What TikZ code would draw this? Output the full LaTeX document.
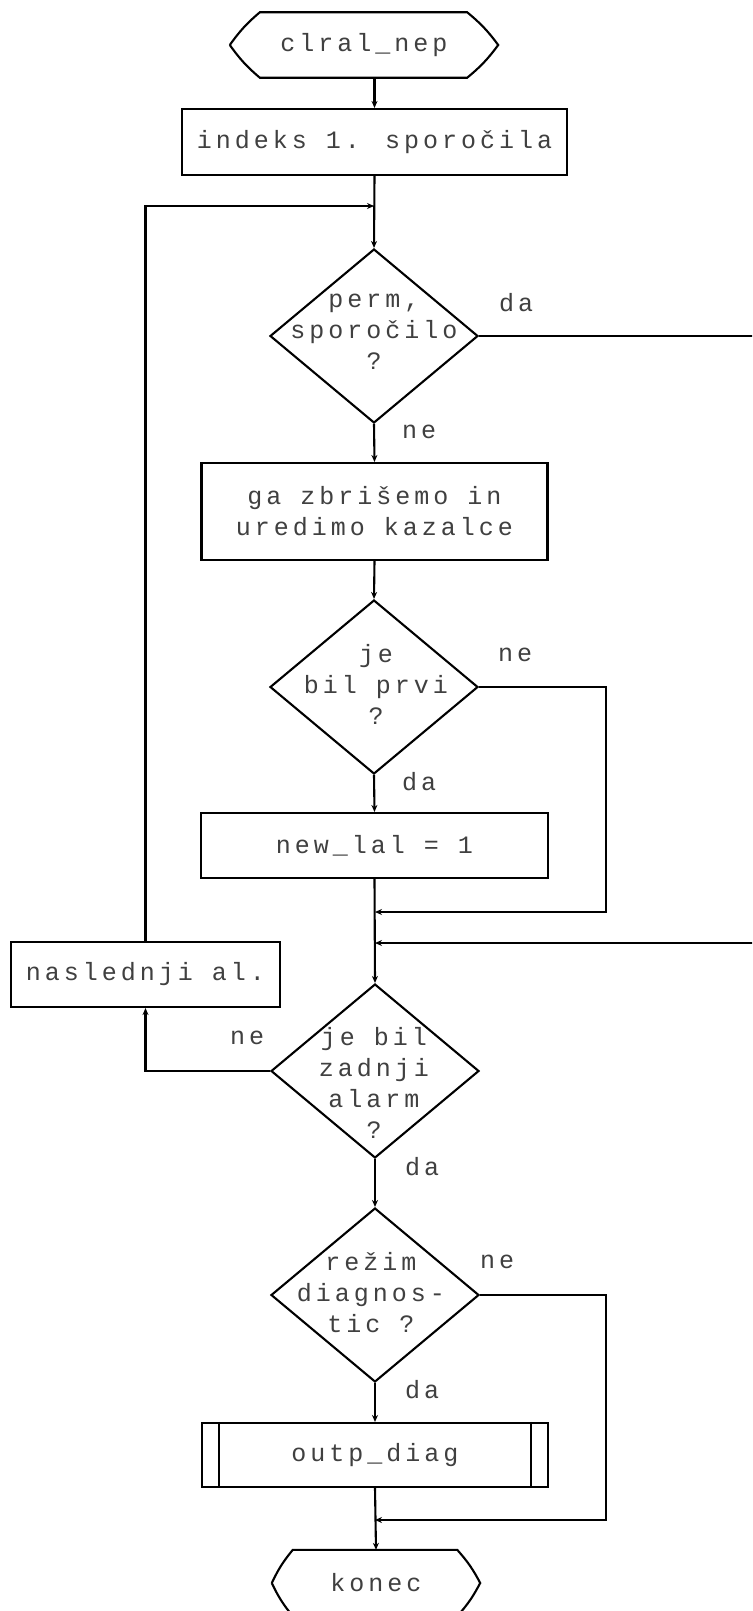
\documentclass[tikz,border=0pt]{standalone}
\usepackage{fontspec}
\newfontfamily\dotfont[LetterSpace=16]{Liberation Mono}
\usetikzlibrary{shapes.geometric,arrows.meta}
\begin{document}
\begin{tikzpicture}[x=1pt,y=-1pt,
  line/.style={line width=2.1pt,draw=black},
  flow/.style={line,-{Stealth[length=7pt,width=6pt]}},
  txt/.style={font={\dotfont\fontsize{25}{31}\selectfont},text=black!75,align=center,inner sep=0pt},
  box/.style={line,rectangle,txt,minimum height=65pt},
  term/.style={txt,minimum height=65pt},
  dia/.style={line,diamond,inner sep=0pt,minimum width=208pt,minimum height=174pt}]
\useasboundingbox (0,0) rectangle (752,1611);
\fill[white] (0,0) rectangle (752,1611);
\clip (0,0) rectangle (752,1611);

% start terminator
\node[term,minimum width=268pt] (start) at (364,45) {clral\_nep};
\draw[line] (start.west) to[bend left=7] ([xshift=30pt]start.north west) -- ([xshift=-31pt]start.north east)
  to[bend left=7] (start.east) to[bend left=7] ([xshift=-31pt]start.south east)
  -- ([xshift=30pt]start.south west) to[bend left=7] (start.west);

\node[box,minimum width=385pt,minimum height=66pt] (ind) at (374.5,142) {indeks 1. sporočila};

% first decision
\node[dia] (d1) at (374,336) {};
\node[txt] (t1) at (374,332) {perm,\\sporočilo\\?};
\node[txt] (l1a) at (516,303) {da};
\node[txt] (l1b) at (419,432) {ne};

\node[box,minimum width=346pt,minimum height=97pt] (b2) at (374.5,511.5) {ga zbrišemo in\\uredimo kazalce};

% second decision
\node[dia] (d2) at (374,687) {};
\node[txt] (t2) at (376,684) {je\\bil prvi\\?};
\node[txt] (l2a) at (515,655) {ne};
\node[txt] (l2b) at (419,782) {da};

\node[box,minimum width=347pt] (nl) at (374.5,845.5) {new\_lal = 1};

% third decision
\node[dia] (d3) at (375,1071) {};
\node[txt] (t3) at (374,1083) {je bil\\zadnji\\alarm\\?};
\node[txt] (l3a) at (247,1038) {ne};
\node[txt] (l3b) at (422,1167) {da};

\node[box,minimum width=269pt,minimum height=65pt] (nasl) at (145.5,974.5) {naslednji al.};

% fourth decision
\node[dia] (d4) at (375,1295) {};
\node[txt] (t4) at (371,1293) {režim\\diagnos-\\tic ?};
\node[txt] (l4a) at (497,1262) {ne};
\node[txt] (l4b) at (422,1390) {da};

% predefined process
\node[box,minimum width=346pt,minimum height=64pt] (op) at (375,1455) {outp\_diag};
\draw[line] ([xshift=18pt]op.north west) -- ([xshift=18pt]op.south west);
\draw[line] ([xshift=-18pt]op.north east) -- ([xshift=-18pt]op.south east);

% end terminator
\node[term,minimum width=208pt,minimum height=66pt] (end) at (376,1583) {konec};
\draw[line] (end.west) to[bend left=7] ([xshift=21pt]end.north west) -- ([xshift=-23pt]end.north east)
  to[bend left=7] (end.east) to[bend left=7] ([xshift=-23pt]end.south east)
  -- ([xshift=21pt]end.south west) to[bend left=7] (end.west);

% junctions
\coordinate (j1) at (374,206);
\coordinate (j2) at (375,912);
\coordinate (j3) at (375,943);
\coordinate (j4) at (375,1520);
\coordinate (r1) at (770,943);
\coordinate (r2) at (606,912);
\coordinate (r4) at (606,1520);

% connectors
\draw[flow] (start.south -| ind.north) -- (ind.north);
\draw[flow] (ind.south) -- (d1.north);
\draw[flow] (nasl.north) |- (j1);
\draw[flow] (d1.south) -- (b2.north);
\draw[flow] (d1.east) -| (r1) -- (j3);
\draw[flow] (b2.south) -- (d2.north);
\draw[flow] (d2.south) -- (nl.north);
\draw[flow] (d2.east) -| (r2) -- (j2);
\draw[flow] (nl.south) -- (d3.north);
\draw[flow] (d3.west) -| (nasl.south);
\draw[flow] (d3.south) -- (d4.north);
\draw[flow] (d4.south) -- (op.north);
\draw[flow] (d4.east) -| (r4) -- (j4);
\draw[flow] (op.south) -- (end.north);
\end{tikzpicture}
\end{document}
